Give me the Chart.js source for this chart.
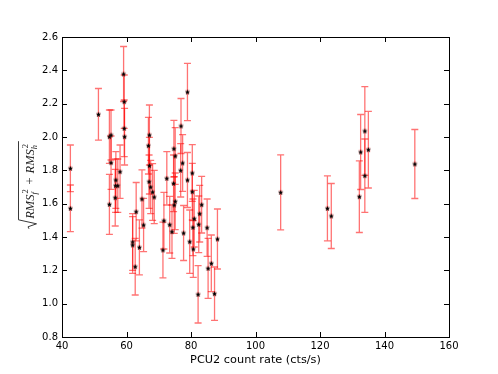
<!DOCTYPE html>
<html><head><meta charset="utf-8">
<script src="https://cdn.jsdelivr.net/npm/chart.js@4.4.0/dist/chart.umd.min.js"></script>
<style>html,body{margin:0;padding:0;background:#fff}</style>
</head><body>
<canvas id="c" width="498" height="374"></canvas>
<script>
// ---- data ----
const countRate = [42.6,42.6,51.3,54.7,55.2,55.2,54.7,56.7,56.6,57.3,56.5,58.0,59.1,59.3,59.3,59.4,
  61.9,61.9,62.7,63.0,64.0,64.8,65.3,66.8,67.1,67.1,67.0,67.5,68.1,68.6,71.3,71.6,72.5,73.4,74.1,
  74.6,74.7,75.1,74.8,75.1,76.8,76.9,77.4,77.7,78.9,78.9,79.6,80.4,80.4,80.6,80.7,81.0,82.4,82.7,
  83.3,82.2,85.0,85.3,86.3,87.3,88.2,107.8,122.3,123.5,132.2,132.6,133.9,133.9,135.0,149.4];
const rmsTotal = [1.812,1.572,2.136,2.002,2.012,1.846,1.596,1.742,1.708,1.708,1.636,1.792,2.378,2.212,2.052,2.002,
  1.370,1.352,1.222,1.552,1.338,1.628,1.472,1.948,2.012,1.828,1.732,1.700,1.670,1.640,1.322,1.498,1.752,1.474,1.432,
  1.722,1.930,1.886,1.592,1.614,1.800,2.066,1.844,1.424,2.270,1.742,1.372,1.784,1.672,1.458,1.328,1.510,1.476,1.540,
  1.594,1.056,1.456,1.212,1.242,1.060,1.388,1.668,1.572,1.526,1.642,1.910,2.036,1.768,1.924,1.838];
const rmsError = [0.14,0.14,0.155,0.16,0.15,0.16,0.18,0.17,0.16,0.16,0.17,0.16,0.165,0.16,0.17,0.17,
  0.17,0.17,0.17,0.175,0.165,0.175,0.16,0.17,0.18,0.17,0.16,0.16,0.17,0.16,0.167,0.17,0.16,0.17,0.16,
  0.17,0.17,0.17,0.17,0.17,0.16,0.165,0.17,0.165,0.172,0.165,0.19,0.17,0.17,0.17,0.17,0.17,0.17,0.17,
  0.17,0.172,0.172,0.18,0.17,0.16,0.18,0.225,0.195,0.195,0.215,0.225,0.266,0.22,0.23,0.207];
const xTicks = [40,60,80,100,120,140,160];
const yTicks = [0.8,1.0,1.2,1.4,1.6,1.8,2.0,2.2,2.4,2.6];
const xLabel = 'PCU2 count rate (cts/s)';
const yLabelTerms = [['RMS','f','2'],['RMS','h','2']];

// ---- marker ----
const star = document.createElement('canvas');
star.width = 9; star.height = 9;
(function(){
  const g = star.getContext('2d');
  g.fillStyle = 'rgba(255,90,90,0.3)';
  g.fillRect(2.5,2,4,5);
  g.beginPath();
  for (let i=0;i<10;i++){
    const r = i%2===0 ? 2.7 : 1.2;
    const a = -Math.PI/2 + i*Math.PI/5;
    const px = 4.5 + r*Math.cos(a), py = 4.7 + r*Math.sin(a);
    i===0 ? g.moveTo(px,py) : g.lineTo(px,py);
  }
  g.closePath();
  g.fillStyle = '#000';
  g.fill();
})();

const points = countRate.map((x,i)=>({x:x, y:rmsTotal[i]}));

const errorBars = {
  id:'errorBars',
  beforeDatasetsDraw(chart){
    const {ctx, scales:{x, y}} = chart;
    ctx.save();
    ctx.strokeStyle = 'rgba(255,0,0,0.55)';
    ctx.lineWidth = 1.3;
    countRate.forEach((cx,i)=>{
      const px = x.getPixelForValue(cx);
      const top = y.getPixelForValue(rmsTotal[i]+rmsError[i]);
      const bot = y.getPixelForValue(rmsTotal[i]-rmsError[i]);
      ctx.beginPath();
      ctx.moveTo(px,top); ctx.lineTo(px,bot);
      ctx.moveTo(px-3.5,top); ctx.lineTo(px+3.5,top);
      ctx.moveTo(px-3.5,bot); ctx.lineTo(px+3.5,bot);
      ctx.stroke();
    });
    ctx.restore();
  }
};

const frame = {
  id:'frame',
  afterDraw(chart){
    const {ctx, chartArea:a, scales:{x, y}} = chart;
    ctx.save();
    ctx.strokeStyle = '#000';
    ctx.lineWidth = 1;
    ctx.strokeRect(Math.round(a.left)+0.5, Math.round(a.top)+0.5, Math.round(a.right-a.left), Math.round(a.bottom-a.top));
    const L = 5;
    ctx.beginPath();
    xTicks.forEach(v=>{
      const p = Math.round(x.getPixelForValue(v))+0.5;
      ctx.moveTo(p,a.bottom); ctx.lineTo(p,a.bottom-L);
      ctx.moveTo(p,a.top); ctx.lineTo(p,a.top+L);
    });
    yTicks.forEach(v=>{
      const p = Math.round(y.getPixelForValue(v))+0.5;
      ctx.moveTo(a.left,p); ctx.lineTo(a.left+L,p);
      ctx.moveTo(a.right,p); ctx.lineTo(a.right-L,p);
    });
    ctx.stroke();

    // y axis label: sqrt(RMS_f^2 + RMS_h^2)
    const big = 'italic 12.5px "Liberation Serif"';
    const small = '8.5px "Liberation Serif"';
    const smallIt = 'italic 8.5px "Liberation Serif"';
    ctx.font = big;
    const wRMS = ctx.measureText('RMS').width;
    ctx.font = '12.5px "Liberation Serif"';
    const wPlus = ctx.measureText('+').width;
    const wScript = 6;
    const gap = 4;
    const radW = 10;
    const W = radW + 2*(wRMS + wScript) + 2*gap + wPlus + 2;
    ctx.translate(33.5, 185);
    ctx.rotate(-Math.PI/2);
    ctx.fillStyle = '#222';
    ctx.strokeStyle = '#222';
    ctx.lineWidth = 0.9;
    let x0 = -W/2;
    ctx.beginPath();
    ctx.moveTo(x0, -4.5);
    ctx.lineTo(x0+2, -5.5);
    ctx.lineTo(x0+5, 3);
    ctx.lineTo(x0+9, -15);
    ctx.lineTo(x0+W, -15);
    ctx.stroke();
    let cx = x0 + radW;
    ctx.textBaseline = 'alphabetic';
    yLabelTerms.forEach((t,i)=>{
      ctx.font = big;
      ctx.fillText(t[0], cx, 0);
      cx += wRMS;
      ctx.font = small;
      ctx.fillText(t[2], cx+1, -5.5);
      ctx.font = smallIt;
      ctx.fillText(t[1], cx, 3.5);
      cx += wScript;
      if (i===0){
        cx += gap;
        ctx.font = '12.5px "Liberation Serif"';
        ctx.fillText('+', cx, 0);
        cx += wPlus + gap;
      }
    });
    ctx.restore();
  }
};

new Chart(document.getElementById('c'), {
  type:'scatter',
  data:{datasets:[{
    data:points,
    pointStyle:star,
    pointRadius:4,
    pointHoverRadius:4
  }]},
  options:{
    responsive:false,
    animation:false,
    devicePixelRatio:1,
    layout:{padding:{top:37,right:49,left:0,bottom:0}},
    plugins:{legend:{display:false},tooltip:{enabled:false}},
    scales:{
      x:{
        type:'linear', min:40, max:160,
        afterBuildTicks(s){ s.ticks = xTicks.map(v=>({value:v})); },
        afterFit(s){ s.height = 37; },
        grid:{display:false, drawTicks:false},
        border:{display:false},
        ticks:{padding:3, color:'#000', font:{family:'"DejaVu Sans"', size:10}, maxRotation:0, callback:v=>String(v)},
        title:{display:true, text:xLabel, color:'#000', font:{family:'"DejaVu Sans"', size:11.3}, padding:{top:0,bottom:7}}
      },
      y:{
        type:'linear', min:0.8, max:2.6,
        afterBuildTicks(s){ s.ticks = yTicks.map(v=>({value:v})); },
        afterFit(s){ s.width = 62; },
        grid:{display:false, drawTicks:false},
        border:{display:false},
        ticks:{padding:4, color:'#000', font:{family:'"DejaVu Sans"', size:10}, callback:v=>Number(v).toFixed(1)}
      }
    }
  },
  plugins:[errorBars, frame]
});
</script>
</body></html>
